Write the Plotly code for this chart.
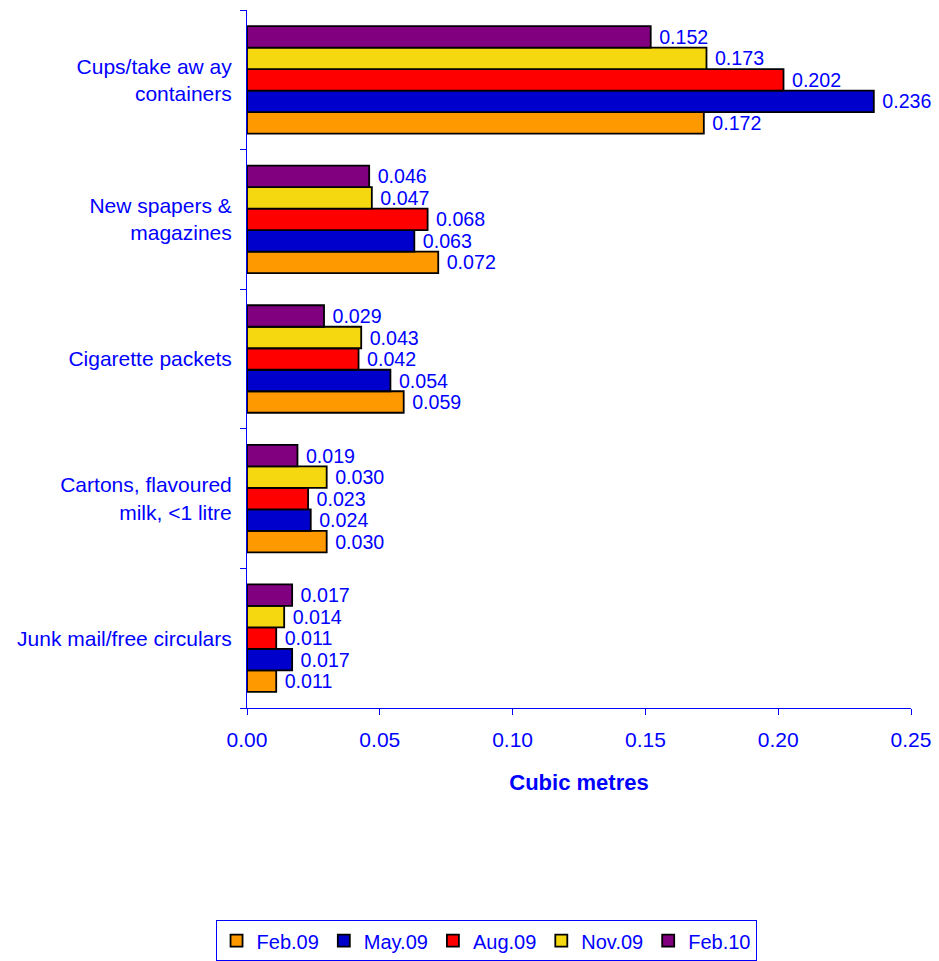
import plotly.graph_objects as go

categories = ["Cups/take aw ay<br>containers", "New spapers &<br>magazines",
              "Cigarette packets", "Cartons, flavoured<br>milk, <1 litre",
              "Junk mail/free circulars"]
series_names = ["Feb.09", "May.09", "Aug.09", "Nov.09", "Feb.10"]
values = {
    "Feb.09": [0.172, 0.072, 0.059, 0.030, 0.011],
    "May.09": [0.236, 0.063, 0.054, 0.024, 0.017],
    "Aug.09": [0.202, 0.068, 0.042, 0.023, 0.011],
    "Nov.09": [0.173, 0.047, 0.043, 0.030, 0.014],
    "Feb.10": [0.152, 0.046, 0.029, 0.019, 0.017],
}
colors = ["#FF9900", "#0000CC", "#FF0000", "#F5D80F", "#800080"]
x_ticks = [0.00, 0.05, 0.10, 0.15, 0.20, 0.25]

BLUE = "#0000FF"
FONT = "Liberation Sans, Arial, sans-serif"

fig = go.Figure()
for name, col in zip(series_names, colors):
    fig.add_trace(go.Bar(
        y=categories, x=values[name], name=name, orientation="h",
        marker=dict(color=col, line=dict(color="#000000", width=1.8)),
        texttemplate=" %{x:.3f}", textposition="outside",
        textfont=dict(color=BLUE, size=21, family=FONT),
        cliponaxis=False,
    ))

fig.update_layout(
    width=931, height=953,
    paper_bgcolor="white", plot_bgcolor="white",
    margin=dict(l=239, r=28, t=2, b=253, autoexpand=False),
    barmode="group", bargap=0.23, bargroupgap=0,
    font=dict(family=FONT, size=21, color=BLUE),
    showlegend=True,
    legend=dict(orientation="h", x=0.36, xanchor="center", y=-0.304, yanchor="top",
                bordercolor=BLUE, borderwidth=1, font=dict(size=20, color=BLUE),
                traceorder="normal", itemwidth=30),
    xaxis=dict(range=[0, 0.25], tickvals=x_ticks, tickformat=".2f",
               showline=True, linecolor=BLUE, linewidth=1,
               ticks="outside", ticklen=6, tickcolor=BLUE,
               showgrid=False, zeroline=False, ticklabelstandoff=7,
               tickfont=dict(size=21, color=BLUE),
               title=dict(text="<b>Cubic metres</b>", font=dict(size=22, color=BLUE), standoff=24)),
    yaxis=dict(type="category", categoryorder="array", categoryarray=categories[::-1],
               showline=True, linecolor=BLUE, linewidth=1,
               ticks="outside", ticklen=6, tickcolor=BLUE, tickson="boundaries",
               ticklabelstandoff=10,
               showgrid=False, tickfont=dict(size=21, color=BLUE)),
)

fig.write_html("out.html")
